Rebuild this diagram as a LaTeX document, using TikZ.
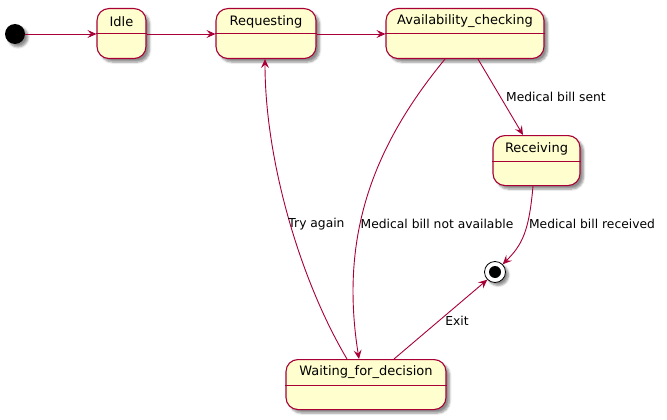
\documentclass[tikz,border=0pt]{standalone}
\usepackage{fontspec}
\setmainfont{DejaVu Sans}
\usetikzlibrary{arrows.meta,shadows.blur}
\definecolor{pumlred}{HTML}{A80036}
\definecolor{pumlfill}{HTML}{FEFECE}
\tikzset{
  statebox/.style={draw=pumlred, fill=pumlfill, line width=1.1pt, rounded corners=12pt,
    inner sep=0pt, minimum height=50pt,
    blur shadow={shadow xshift=3.5pt, shadow yshift=-3.5pt, shadow blur steps=6, shadow opacity=45}},
  statetitle/.style={inner sep=0pt, font=\fontsize{13}{15}\selectfont},
  divider/.style={draw=pumlred, line width=1pt},
  arr/.style={draw=pumlred, line width=0.9pt, -{Stealth[length=9pt,width=8pt,inset=3.5pt]}},
  lbl/.style={inner sep=0pt, font=\fontsize{12.3}{14}\selectfont},
  dot/.style={circle, inner sep=0pt, blur shadow={shadow xshift=3pt, shadow yshift=-3pt, shadow blur steps=5, shadow opacity=45}}
}
\newcommand{\mkstate}[5]{% name, cx, cy(top), width, text
  \node[statebox, minimum width=#4pt, anchor=north] (#1) at (#2,#3) {};
  \node[statetitle] (#1t) at ([yshift=-13.5pt]#1.north) {#5};
  \draw[divider] ([yshift=-26pt]#1.north west) -- ([yshift=-26pt]#1.north east);
}
\begin{document}
\begin{tikzpicture}[x=1pt,y=-1pt]
\useasboundingbox (0,0) rectangle (667,420);
\node[dot, fill=black, minimum size=20pt] (init) at (15,34) {};
\mkstate{idle}{121.5}{8}{49}{Idle}
\mkstate{req}{266}{8}{100}{Requesting}
\mkstate{avail}{465}{8}{158}{Availability\_checking}
\mkstate{recv}{536.5}{135}{87}{Receiving}
\mkstate{wait}{366}{359}{160}{Waiting\_for\_decision}
\node[dot, draw=black, fill=white, line width=0.8pt, minimum size=21pt] (final) at (495,272) {};
\node[circle, fill=black, inner sep=0pt, minimum size=12pt] (finalin) at (final) {};

\coordinate (lvl) at (0,34);
\draw[arr] (init.east) -- (idle.west |- lvl);
\draw[arr] (idle.east |- lvl) -- (req.west |- lvl);
\draw[arr] (req.east |- lvl) -- (avail.west |- lvl);
\draw[arr] ([xshift=13pt]avail.south) -- ([xshift=-13.5pt]recv.north);
\node[lbl] (l1) at (556,97) {Medical bill sent};
\draw[arr] ([xshift=-20pt]avail.south) .. controls (370,150) and (340,240) .. ([xshift=-7pt]wait.north);
\node[lbl] (l2) at (437,224) {Medical bill not available};
\draw[arr] ([xshift=-19pt]wait.north) .. controls (300,280) and (265,160) .. ([xshift=-1pt]req.south);
\node[lbl] (l3) at (316.5,224) {Try again};
\draw[arr] ([xshift=-3.5pt]recv.south) .. controls (529,232) and (522,245) .. (final.north east);
\node[lbl] (l4) at (592,224) {Medical bill received};
\draw[arr] ([xshift=28pt]wait.north) -- (final.south west);
\node[lbl] (l5) at (457,321) {Exit};
\end{tikzpicture}
\end{document}
